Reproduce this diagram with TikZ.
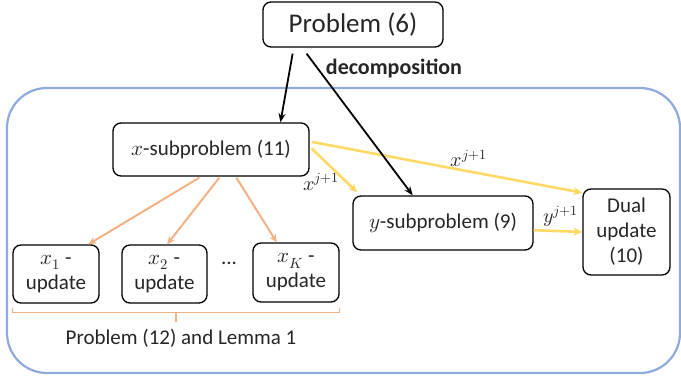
\documentclass[tikz,border=0pt]{standalone}
\usepackage{fontspec}
\usepackage{unicode-math}
\setmainfont{Carlito}
\setmathfont{Latin Modern Math}
\usetikzlibrary{arrows.meta,calc}
\definecolor{frameblue}{HTML}{8FAADC}
\definecolor{arryellow}{HTML}{FFD966}
\definecolor{arrorange}{HTML}{F4B183}
\definecolor{txt}{HTML}{262626}
\tikzset{
  box/.style={draw=black, line width=1.3pt, rounded corners=8pt, align=center, inner sep=0pt, text=txt,
    font=\fontsize{21}{25}\selectfont},
  blackarr/.style={draw=black, line width=1.8pt, -{Stealth[length=9pt,width=7pt]}},
  yelarr/.style={draw=arryellow, line width=2.6pt, -{Stealth[length=9pt,width=8pt]}},
  orarr/.style={draw=arrorange, line width=2pt, -{Stealth[length=8pt,width=7pt]}},
  lbl/.style={inner sep=0pt, text=txt, font=\fontsize{20}{22}\selectfont},
}
\begin{document}
\begin{tikzpicture}[x=1pt,y=-1pt]
\useasboundingbox (0,0) rectangle (681,382);
% frame
\node[draw=frameblue, line width=2.2pt, rounded corners=40pt, minimum width=673pt, minimum height=285pt, inner sep=0pt] (frame) at (343.5,230.5) {};
% nodes
\node[box, minimum width=180pt, minimum height=45pt, font=\fontsize{27}{30}\selectfont] (p6) at (353,24.5) {Problem (6)};
\node[box, minimum width=196pt, minimum height=53pt] (xsub) at (211,149.5) {$x$-subproblem (11)};
\node[box, minimum width=180pt, minimum height=54pt] (ysub) at (443,223) {$y$-subproblem (9)};
\node[box, minimum width=87pt, minimum height=86pt] (dual) at (626.5,232) {Dual\\update\\(10)};
\node[box, minimum width=86pt, minimum height=58pt] (x1) at (56,274) {$x_1$ -\\update};
\node[box, minimum width=85pt, minimum height=58pt] (x2) at (164.5,274) {$x_2$ -\\update};
\node[box, minimum width=86pt, minimum height=59pt] (xK) at (296,272.5) {$x_K$ -\\update};
\node[inner sep=0pt, text=txt, font=\fontsize{21}{25}\selectfont] (dots) at (229,263) {...};
\node[inner sep=0pt, text=txt, font=\bfseries\fontsize{22}{26}\selectfont] (dec) at (394,68) {decomposition};
\node[inner sep=0pt, text=txt, font=\fontsize{21}{25}\selectfont] (lemma) at (181,338) {Problem (12) and Lemma 1};
% yellow arrows
\draw[yelarr] ($(xsub.north east)!0.36!(xsub.south east)+(2,0)$) -- node[lbl, pos=0.58, anchor=south, yshift=3pt] (lx1) {$x^{j+1}$} ($(dual.north west)!0.05!(dual.south west)$);
\draw[yelarr] ($(xsub.east)+(2,-1)$) -- node[lbl, pos=0.52, anchor=north east, xshift=5pt, yshift=-1pt] (lx2) {$x^{j+1}$} ($(ysub.north west)+(5,-3)$);
\draw[yelarr] ($(ysub.north east)!0.63!(ysub.south east)$) -- node[lbl, pos=0.55, anchor=south, yshift=3pt] (ly) {$y^{j+1}$} (dual.west);
% orange arrows
\draw[orarr] ($(xsub.south west)+(87,1)$) -- ($(x1.north west)!0.87!(x1.north east)$);
\draw[orarr] ($(xsub.south west)+(107,1)$) -- ($(x2.north west)!0.53!(x2.north east)$);
\draw[orarr] ($(xsub.south west)+(124,1)$) -- ($(xK.north west)!0.28!(xK.north east)$);
% brace
\draw[arrorange, line width=1.5pt] ($(x1.south west)+(0,4)$) -- ($(x1.south west)+(0,9)$) -- ($(xK.south east)+(0,10)$) -- ($(xK.south east)+(0,5)$);
\coordinate (bm) at ($(x1.south west)!0.5!(xK.south east)+(0,9.5)$);
\draw[arrorange, line width=1.5pt] (bm) -- ($(bm)+(0,9)$);
% black arrows
\draw[blackarr] ($(p6.south west)!0.167!(p6.south east)+(0,6)$) -- ($(xsub.north west)!0.852!(xsub.north east)$);
\draw[blackarr] ($(p6.south west)!0.244!(p6.south east)+(0,6)$) -- ($(ysub.north west)!0.333!(ysub.north east)$);
\end{tikzpicture}
\end{document}
